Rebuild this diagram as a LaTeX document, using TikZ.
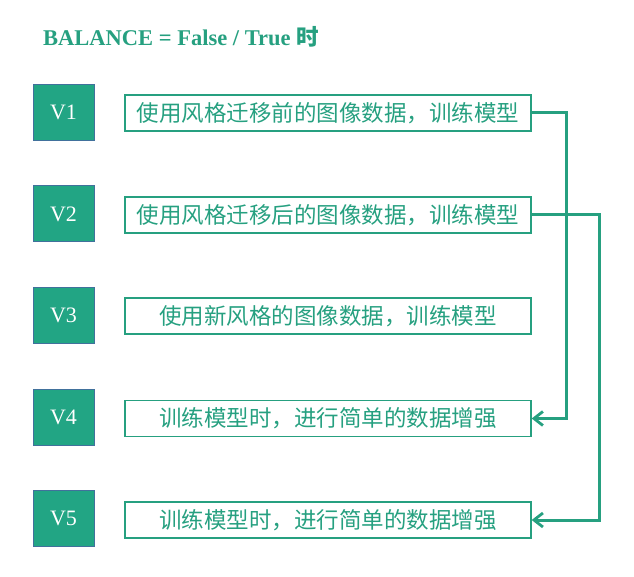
\documentclass[tikz,border=0pt]{standalone}
\usepackage{fontspec}
\setmainfont{Liberation Serif}
\newfontfamily\cjk{Noto Sans CJK SC}
\usetikzlibrary{arrows.meta}
\definecolor{vgreen}{RGB}{34,165,132}
\definecolor{tgreen}{RGB}{38,160,128}
\definecolor{vborder}{RGB}{65,113,156}
\tikzset{
  vbox/.style={draw=vborder, line width=1pt, fill=vgreen, minimum width=61pt, minimum height=56pt, inner sep=0pt, text=white, font=\fontsize{22}{24}\selectfont},
  tbox/.style={draw=tgreen, line width=1.3pt, minimum width=406pt, minimum height=36pt, inner sep=0pt, text=tgreen, font=\cjk\fontsize{22.5}{26}\selectfont},
  conn/.style={draw=tgreen, line width=3pt},
  arr/.style={conn, -{Straight Barb[length=9pt,width=14pt,line width=2.8pt]}}
}
\begin{document}
\begin{tikzpicture}[x=1pt,y=-1pt]
\useasboundingbox (0,0) rectangle (634,577);
\node[anchor=base west, inner sep=0pt, text=tgreen, font=\bfseries\fontsize{22.5}{26}\selectfont] (title) at (43,46) {BALANCE = False / True {\cjk\bfseries 时}};

\node[vbox] (v1) at (63.5,112.5) {V1};
\node[vbox] (v2) at (63.5,214) {V2};
\node[vbox] (v3) at (63.5,315.5) {V3};
\node[vbox] (v4) at (63.5,417) {V4};
\node[vbox] (v5) at (63.5,518.5) {V5};

\node[tbox] (t1) at (328,113) {使用风格迁移前的图像数据，训练模型};
\node[tbox] (t2) at (328,215) {使用风格迁移后的图像数据，训练模型};
\node[tbox] (t3) at (328,316) {使用新风格的图像数据，训练模型};
\node[tbox] (t4) at (328,418.5) {训练模型时，进行简单的数据增强};
\node[tbox] (t5) at (328,520) {训练模型时，进行简单的数据增强};

\coordinate (c1) at (566,0);
\coordinate (c2) at (599,0);
\draw[arr] (t1.east) -- (t1.east -| c1) -- (t4.east -| c1) -- (t4.east);
\draw[arr] (t2.east) -- (t2.east -| c2) -- (t5.east -| c2) -- (t5.east);
\end{tikzpicture}
\end{document}
